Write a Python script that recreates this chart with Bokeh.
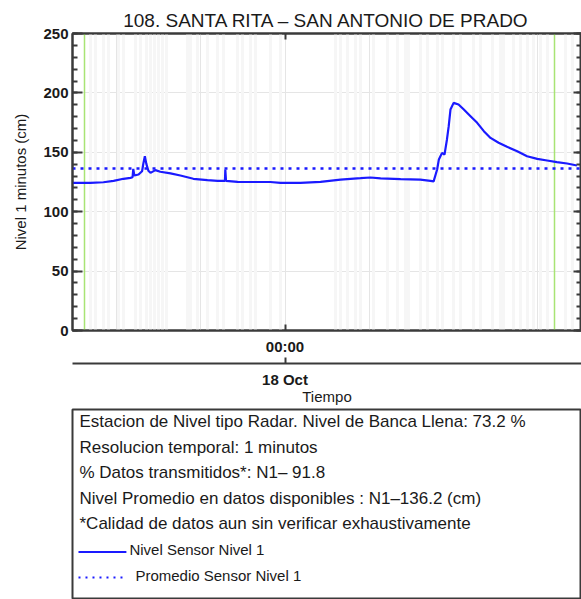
import pandas as pd
from bokeh.plotting import figure
from bokeh.layouts import column
from bokeh.models import (Range1d, DatetimeAxis, LinearAxis, FixedTicker,
                          DatetimeTickFormatter, SingleIntervalTicker,
                          CustomJSTickFormatter)
from bokeh.embed import file_html
from bokeh.resources import INLINE
from bokeh.core.properties import value

# ---------------- data ----------------
TITLE = "108. SANTA RITA \u2013 SAN ANTONIO DE PRADO"
Y_LABEL = "Nivel 1 minutos (cm)"
X_LABEL = "Tiempo"
X_START = "2023-10-17 13:55"
X_END = "2023-10-18 14:04"
X_TICK = "2023-10-18 00:00"
Y_MAX = 250

times = [
    "2023-10-17 13:55", "2023-10-17 14:46", "2023-10-17 15:23", "2023-10-17 15:52",
    "2023-10-17 16:20", "2023-10-17 16:40", "2023-10-17 16:46", "2023-10-17 16:48",
    "2023-10-17 16:51", "2023-10-17 17:03", "2023-10-17 17:13", "2023-10-17 17:17",
    "2023-10-17 17:21", "2023-10-17 17:25", "2023-10-17 17:31", "2023-10-17 17:37",
    "2023-10-17 17:51", "2023-10-17 18:05", "2023-10-17 18:34", "2023-10-17 19:02",
    "2023-10-17 19:39", "2023-10-17 20:19", "2023-10-17 20:48", "2023-10-17 21:09",
    "2023-10-17 21:10", "2023-10-17 21:12", "2023-10-17 21:45", "2023-10-17 22:41",
    "2023-10-17 23:18", "2023-10-17 23:47", "2023-10-18 00:44", "2023-10-18 01:41",
    "2023-10-18 02:38", "2023-10-18 03:35", "2023-10-18 04:03", "2023-10-18 04:32",
    "2023-10-18 05:29", "2023-10-18 06:25", "2023-10-18 06:54", "2023-10-18 07:03",
    "2023-10-18 07:13", "2023-10-18 07:18", "2023-10-18 07:27", "2023-10-18 07:34",
    "2023-10-18 07:41", "2023-10-18 07:46", "2023-10-18 07:51", "2023-10-18 08:00",
    "2023-10-18 08:14", "2023-10-18 08:29", "2023-10-18 08:48", "2023-10-18 09:07",
    "2023-10-18 09:26", "2023-10-18 09:45", "2023-10-18 10:08", "2023-10-18 10:32",
    "2023-10-18 11:01", "2023-10-18 11:29", "2023-10-18 11:58", "2023-10-18 12:26",
    "2023-10-18 12:54", "2023-10-18 13:23", "2023-10-18 13:51",
]
levels = [
    124.3, 124.3, 124.8, 126.0,
    127.7, 128.5, 129.0, 136.0,
    130.5, 131.3, 134.0, 141.0,
    146.7, 140.5, 134.5, 132.7,
    135.0, 133.6, 132.2, 130.5,
    127.7, 126.5, 126.0, 126.0,
    135.5, 126.0, 125.1, 125.0,
    125.0, 124.3, 124.3, 125.1,
    127.0, 128.2, 128.8, 128.0,
    127.4, 127.0, 126.0, 125.5,
    135.5, 144.0, 149.5, 148.0,
    160.8, 172.0, 186.0, 191.6,
    190.2, 186.0, 180.4, 174.8,
    167.8, 162.1, 158.0, 154.6,
    150.9, 146.7, 144.5, 143.1,
    141.7, 140.6, 138.9,
]
MEAN_LEVEL = 136.2

green_marks = ["2023-10-17 14:29", "2023-10-18 12:47"]

gap_times = [
    "2023-10-17 14:46", "2023-10-17 15:00", "2023-10-17 15:23", "2023-10-17 15:37",
    "2023-10-17 16:06", "2023-10-17 16:20", "2023-10-17 16:54", "2023-10-17 17:08",
    "2023-10-17 17:26", "2023-10-17 17:37", "2023-10-17 17:48", "2023-10-17 18:00",
    "2023-10-17 18:11", "2023-10-17 18:22", "2023-10-17 19:22", "2023-10-17 19:31",
    "2023-10-17 19:51", "2023-10-17 20:19", "2023-10-17 20:48", "2023-10-17 21:05",
    "2023-10-17 21:45", "2023-10-17 21:59", "2023-10-17 22:22", "2023-10-17 22:36",
    "2023-10-17 23:18", "2023-10-17 23:47", "2023-10-18 02:23", "2023-10-18 02:38",
    "2023-10-18 02:58", "2023-10-18 03:20", "2023-10-18 03:35", "2023-10-18 04:12",
    "2023-10-18 04:52", "2023-10-18 05:20", "2023-10-18 05:43", "2023-10-18 05:51",
    "2023-10-18 06:25", "2023-10-18 06:45", "2023-10-18 07:14", "2023-10-18 07:28",
    "2023-10-18 07:59", "2023-10-18 08:19", "2023-10-18 08:56", "2023-10-18 09:16",
    "2023-10-18 09:50", "2023-10-18 10:13", "2023-10-18 10:22", "2023-10-18 10:50",
    "2023-10-18 11:10", "2023-10-18 11:29", "2023-10-18 11:47", "2023-10-18 12:07",
    "2023-10-18 12:27", "2023-10-18 13:18", "2023-10-18 13:38",
]

info_lines = [
    "Estacion de Nivel tipo Radar. Nivel de Banca Llena: 73.2 %",
    "Resolucion temporal: 1 minutos",
    "% Datos transmitidos*: N1\u2013 91.8",
    "Nivel Promedio en datos disponibles : N1\u2013136.2 (cm)",
    "*Calidad de datos aun sin verificar exhaustivamente",
]
legend_labels = ["Nivel Sensor Nivel 1", "Promedio Sensor Nivel 1"]

# ---------------- styles ----------------
FONT = "Liberation Sans"
BLUE = "#1a1aff"
AX = "#3a3a3a"
TXT = "#1a1a1a"

t = pd.to_datetime(times)
tick_ms = int(pd.Timestamp(X_TICK).timestamp() * 1000)

p = figure(width=581, height=407,
           x_range=Range1d(pd.Timestamp(X_START), pd.Timestamp(X_END)),
           y_range=Range1d(0, Y_MAX),
           x_axis_location=None, y_axis_location=None,
           output_backend="svg", toolbar_location=None,
           min_border_left=72, min_border_right=0, min_border_top=33,
           min_border_bottom=76)
p.outline_line_color = AX
p.outline_line_width = 2
p.background_fill_color = "white"
p.border_fill_color = "white"

p.title.text = TITLE
p.title.align = "center"
p.title.text_font = FONT
p.title.text_font_size = "19px"
p.title.text_font_style = "normal"
p.title.text_color = TXT
p.title.standoff = 5

# background markers
p.vspan(x=pd.to_datetime(gap_times), line_color="#f6f6f6", line_width=3)
p.vspan(x=pd.to_datetime(green_marks), line_color="#a8e474", line_width=1.5)

# series
p.line(t, levels, line_color=BLUE, line_width=2.2)
p.hspan(y=[MEAN_LEVEL], line_color=BLUE, line_width=2.5, line_dash="3 5")

EMPTY = CustomJSTickFormatter(code="return ''")

# left axis
ya = LinearAxis(ticker=SingleIntervalTicker(interval=50, num_minor_ticks=5),
                major_tick_in=10, major_tick_out=0, minor_tick_in=5, minor_tick_out=0,
                axis_line_color=AX, axis_line_width=2,
                major_tick_line_color=AX, major_tick_line_width=2,
                minor_tick_line_color=AX, minor_tick_line_width=2,
                major_label_text_font=FONT, major_label_text_font_size="15px",
                major_label_text_font_style="bold", major_label_text_color=TXT,
                major_label_standoff=4,
                axis_label=Y_LABEL, axis_label_text_font=FONT,
                axis_label_text_font_size="15px", axis_label_text_font_style="normal",
                axis_label_text_color=TXT, axis_label_standoff=11)
p.add_layout(ya, "left")

# right axis (ticks only)
ra = LinearAxis(ticker=SingleIntervalTicker(interval=50, num_minor_ticks=5),
                formatter=EMPTY, major_label_standoff=0,
                major_tick_in=8, major_tick_out=0, minor_tick_in=5, minor_tick_out=0,
                axis_line_color=AX, axis_line_width=2,
                major_tick_line_color=AX, major_tick_line_width=2,
                minor_tick_line_color=AX, minor_tick_line_width=2)
p.add_layout(ra, "right")


def dt_fmt(fmt):
    return DatetimeTickFormatter(
        microseconds=fmt, milliseconds=fmt, seconds=fmt, minsec=fmt, minutes=fmt,
        hourmin=fmt, hours=fmt, days=fmt, months=fmt, years=fmt,
        strip_leading_zeros=False)


# top axis (tick only)
ta = DatetimeAxis(ticker=FixedTicker(ticks=[tick_ms]), formatter=EMPTY,
                  major_label_standoff=0,
                  major_tick_in=6, major_tick_out=0, minor_tick_in=0, minor_tick_out=0,
                  axis_line_color=AX, axis_line_width=2,
                  major_tick_line_color=AX, major_tick_line_width=2)
p.add_layout(ta, "above")

# bottom axis 1 : hour
xa = DatetimeAxis(ticker=FixedTicker(ticks=[tick_ms]), formatter=dt_fmt("%H:%M"),
                  major_tick_in=6, major_tick_out=0, minor_tick_in=0, minor_tick_out=0,
                  axis_line_color=AX, axis_line_width=2,
                  major_tick_line_color=AX, major_tick_line_width=2,
                  major_label_text_font=FONT, major_label_text_font_size="15px",
                  major_label_text_font_style="bold", major_label_text_color=TXT,
                  major_label_standoff=7,
                  axis_label=" ", axis_label_text_font_size="3px",
                  axis_label_standoff=0)
p.add_layout(xa, "below")

# bottom axis 2 : day
xb = DatetimeAxis(ticker=FixedTicker(ticks=[tick_ms]), formatter=dt_fmt("%d %b"),
                  major_tick_in=6, major_tick_out=0, minor_tick_in=0, minor_tick_out=0,
                  axis_line_color=AX, axis_line_width=2,
                  major_tick_line_color=AX, major_tick_line_width=2,
                  major_label_text_font=FONT, major_label_text_font_size="15px",
                  major_label_text_font_style="bold", major_label_text_color=TXT,
                  major_label_standoff=7,
                  axis_label=X_LABEL, axis_label_text_font=FONT,
                  axis_label_text_font_size="15px", axis_label_text_font_style="normal",
                  axis_label_text_color=TXT, axis_label_standoff=-3)
p.add_layout(xb, "below")

# ---------------- info / legend box ----------------
BOX_W, BOX_H = 510, 190
ROW0, ROW_STEP = 12, 25.6
q = figure(width=581, height=192, x_range=Range1d(0, BOX_W), y_range=Range1d(BOX_H, 0),
           x_axis_location=None, y_axis_location=None,
           output_backend="svg", toolbar_location=None,
           min_border_left=71, min_border_right=0, min_border_top=2, min_border_bottom=0)
q.xgrid.visible = False
q.ygrid.visible = False
q.outline_line_color = AX
q.outline_line_width = 2
q.border_fill_color = "white"

info_y = [ROW0 + i * ROW_STEP for i in range(len(info_lines))]
q.text(x=[7] * len(info_lines), y=info_y, text=info_lines,
       text_font=value(FONT), text_font_size="17px", text_color=TXT,
       text_baseline="middle", text_align="left")

leg_y = [ROW0 + (len(info_lines) + i) * ROW_STEP for i in range(len(legend_labels))]
q.text(x=[57, 63], y=leg_y, text=legend_labels,
       text_font=value(FONT), text_font_size="15px", text_color=TXT,
       text_baseline="middle", text_align="left")
q.segment(x0=[6], y0=[leg_y[0] + 2.5], x1=[54], y1=[leg_y[0] + 2.5],
          line_color=BLUE, line_width=2)
q.segment(x0=[6], y0=[leg_y[1] + 2.5], x1=[54], y1=[leg_y[1] + 2.5],
          line_color=BLUE, line_width=2, line_dash="2 5")

layout = column(p, q, spacing=0)
open("out.html", "w").write(file_html(layout, INLINE))
